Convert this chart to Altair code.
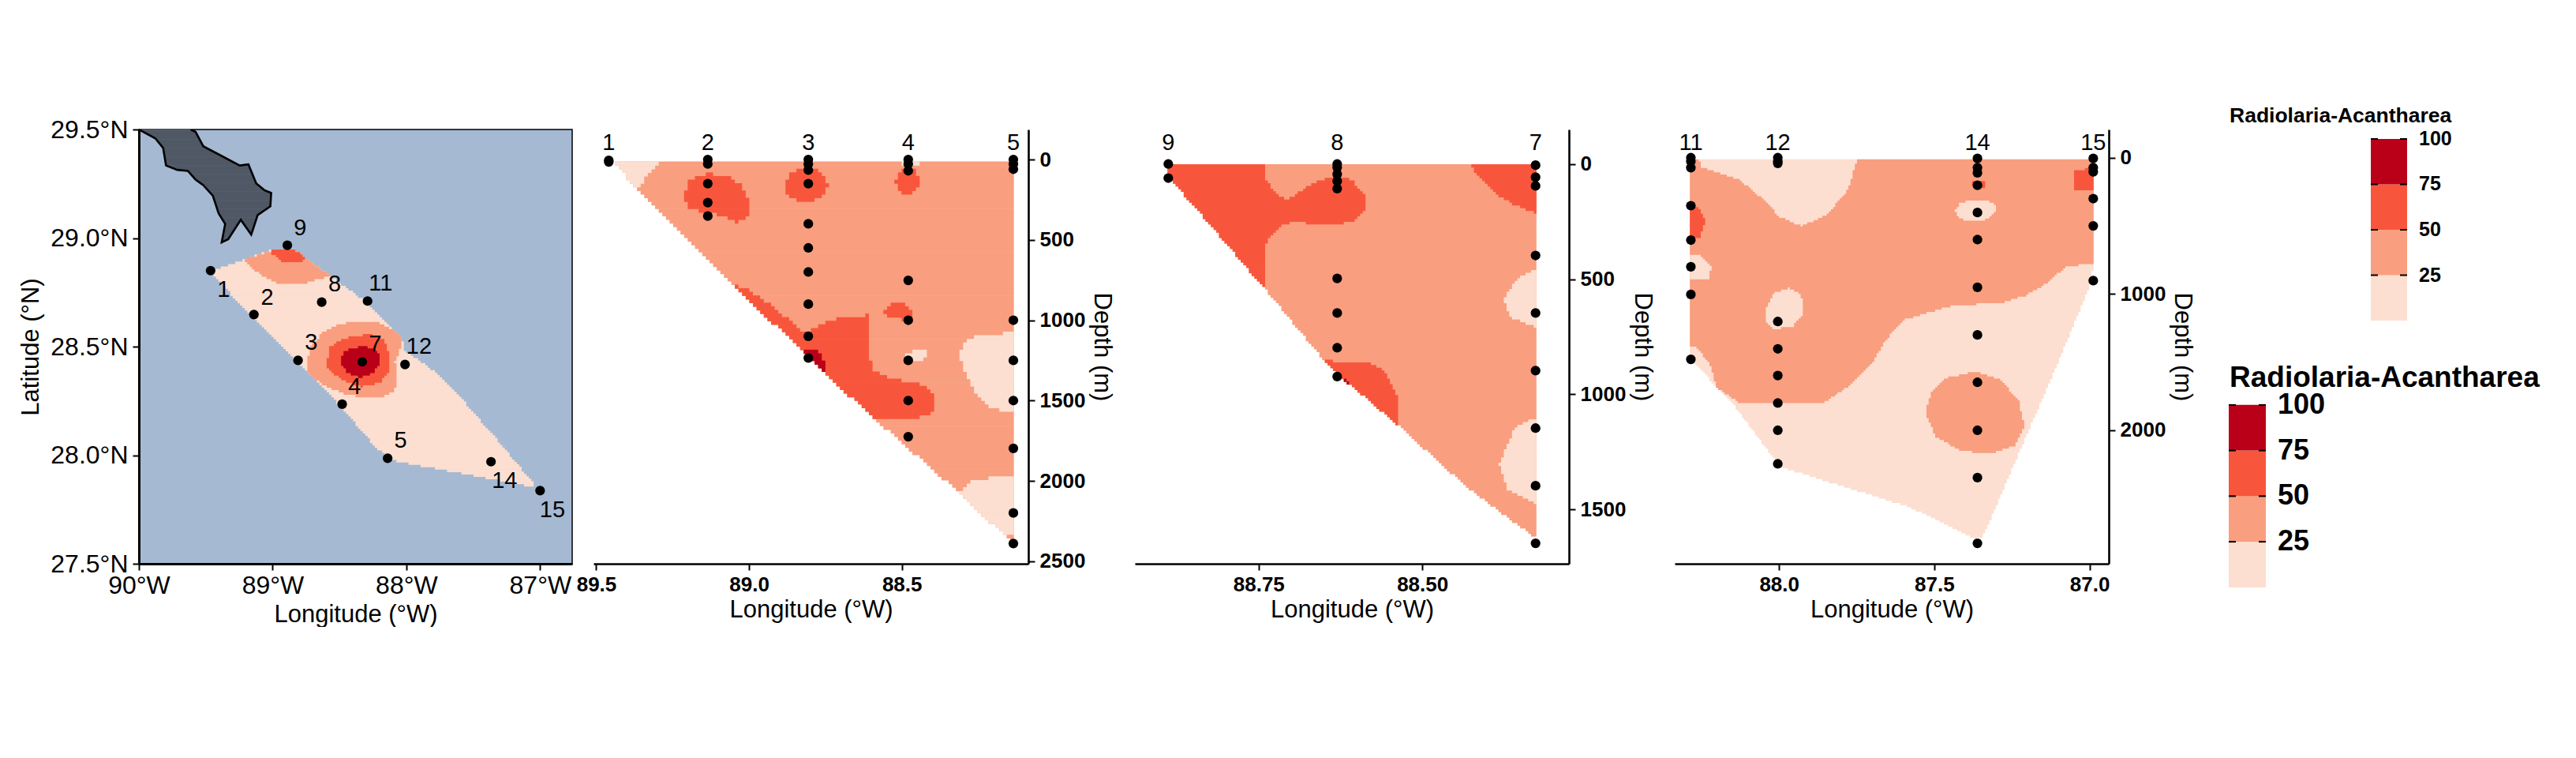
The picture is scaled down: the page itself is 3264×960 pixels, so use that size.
import altair as alt
import pandas as pd

# Colour classes
CLASSES = ["light", "mid", "strong", "dark", "land"]
COLORS = ["#fcdfd0", "#f99e7f", "#f8563c", "#ba0018", "#4f5864"]
LEGEND_BREAKS = [0, 25, 50, 75, 100]
LEGEND_TITLE = "Radiolaria-Acantharea"

# ---------- Map panel ----------
map_station = ["1", "2", "3", "4", "5", "7", "8", "9", "11", "12", "14", "15"]
map_lon = [89.464, 89.14, 88.81, 88.48, 88.14, 88.33, 88.633, 88.89, 88.29, 88.01, 87.367, 87.0]
map_lat = [28.85, 28.648, 28.437, 28.235, 27.986, 28.43, 28.705, 28.967, 28.71, 28.418, 27.97, 27.837]
map_label_lon = [89.367, 89.04, 88.711, 88.387, 88.043, 88.232, 88.536, 88.794, 88.192, 87.905, 87.266, 86.908]
map_label_lat = [28.763, 28.727, 28.519, 28.313, 28.066, 28.512, 28.786, 29.047, 28.791, 28.499, 27.883, 27.749]

land = [(90.0, 29.5), (89.877, 29.459), (89.819, 29.415), (89.797, 29.334), (89.713, 29.314), (89.633, 29.309),
        (89.576, 29.269), (89.519, 29.244), (89.447, 29.195), (89.404, 29.114), (89.355, 29.065), (89.381, 28.98),
        (89.332, 28.995), (89.238, 29.084), (89.16, 29.016), (89.112, 29.106), (89.017, 29.146), (89.011, 29.208),
        (89.06, 29.22), (89.123, 29.252), (89.181, 29.339), (89.246, 29.334), (89.519, 29.423), (89.576, 29.489),
        (89.613, 29.5)]

map_regions = [
    ("light", [(89.447, 28.85), (89.203, 28.899), (89.017, 28.943), (88.831, 28.943), (88.745, 28.902), (88.573, 28.825),
               (88.287, 28.698), (88.143, 28.608), (88.029, 28.527), (88.029, 28.486), (87.799, 28.388), (87.599, 28.266),
               (87.312, 28.062), (87.026, 27.85), (87.37, 27.891), (88.115, 27.976), (88.244, 28.046), (88.458, 28.201),
               (88.63, 28.315), (89.032, 28.559), (89.261, 28.706), (89.447, 28.837)]),
    ("mid", [(89.218, 28.899), (89.017, 28.938), (88.831, 28.943), (88.745, 28.902), (88.573, 28.825), (88.774, 28.788),
             (88.946, 28.788), (89.089, 28.828)]),
    ("strong", [(89.017, 28.938), (88.903, 28.947), (88.831, 28.943), (88.745, 28.899), (88.831, 28.889), (88.931, 28.894),
                (89.017, 28.935)]),
    ("mid", [(88.745, 28.421), (88.716, 28.494), (88.63, 28.559), (88.516, 28.6), (88.372, 28.613), (88.201, 28.608),
             (88.1, 28.576), (88.029, 28.527), (88.043, 28.494), (88.086, 28.429), (88.066, 28.348), (88.086, 28.299),
             (88.172, 28.266), (88.287, 28.261), (88.458, 28.282), (88.63, 28.323), (88.731, 28.38)]),
    ("strong", [(88.596, 28.421), (88.573, 28.494), (88.473, 28.535), (88.287, 28.555), (88.172, 28.535), (88.129, 28.47),
                (88.129, 28.38), (88.201, 28.331), (88.344, 28.315), (88.487, 28.348), (88.587, 28.396)]),
    ("dark", [(88.496, 28.429), (88.458, 28.478), (88.315, 28.502), (88.215, 28.478), (88.192, 28.429), (88.244, 28.38),
              (88.344, 28.356), (88.444, 28.38)]),
]

# ---------- Section 1-5 ----------
s2_station = ["1", "2", "3", "4", "5"]
s2_station_lon = [89.459, 89.135, 88.806, 88.479, 88.135]
s2_lon = [89.459, 89.459,
          89.135, 89.135, 89.135, 89.135, 89.135,
          88.806, 88.806, 88.806, 88.806, 88.806, 88.806, 88.806, 88.806, 88.806, 88.806,
          88.479, 88.479, 88.479, 88.479, 88.479, 88.479, 88.479, 88.479,
          88.135, 88.135, 88.135, 88.135, 88.135, 88.135, 88.135, 88.135, 88.135]
s2_depth = [5, 15,
            0, 28, 150, 268, 352,
            0, 28, 66, 150, 400, 550, 700, 900, 1100, 1235,
            0, 28, 70, 752, 1000, 1250, 1500, 1725,
            0, 28, 60, 1000, 1250, 1500, 1798, 2200, 2390]
s2_regions = [
    ("mid", [(89.446, 11), (89.365, 187), (89.168, 571), (88.823, 1198), (88.753, 1330), (88.583, 1626), (88.311, 2077),
             (88.167, 2336), (88.132, 2385), (88.132, 11)]),
    ("light", [(89.446, 11), (89.278, 11), (89.318, 55), (89.365, 187)]),
    ("light", [(88.514, 11), (88.433, 11), (88.45, 33), (88.496, 33)]),
    ("light", [(88.485, 1220), (88.456, 1180), (88.418, 1187), (88.418, 1231), (88.456, 1259), (88.485, 1259)]),
    ("light", [(88.311, 1231), (88.294, 1132), (88.23, 1088), (88.132, 1084), (88.132, 1582), (88.207, 1549), (88.265, 1440),
               (88.294, 1330)]),
    ("light", [(88.311, 2077), (88.276, 2011), (88.207, 1982), (88.132, 1978), (88.132, 2336), (88.167, 2336)]),
    ("strong", [(89.208, 209), (89.197, 132), (89.133, 92), (89.075, 99), (89.023, 165), (88.994, 275), (89.006, 352),
                (89.041, 396), (89.087, 352), (89.133, 330), (89.197, 308), (89.208, 264)]),
    ("strong", [(88.887, 165), (88.867, 88), (88.821, 44), (88.774, 66), (88.74, 154), (88.757, 231), (88.809, 268), (88.867, 242)]),
    ("strong", [(88.523, 132), (88.502, 66), (88.456, 59), (88.441, 132), (88.456, 204), (88.485, 220), (88.514, 187)]),
    ("strong", [(88.568, 956), (88.531, 901), (88.497, 901), (88.459, 967), (88.468, 1004), (88.531, 989)]),
    ("strong", [(89.058, 771), (88.994, 824), (88.902, 945), (88.823, 1088), (88.774, 1044), (88.705, 982), (88.603, 971),
                (88.61, 1220), (88.589, 1319), (88.531, 1374), (88.462, 1385), (88.404, 1440), (88.387, 1505), (88.404, 1582),
                (88.485, 1626), (88.583, 1626), (88.753, 1330), (88.823, 1198)]),
    ("dark", [(88.823, 1198), (88.772, 1198), (88.753, 1253), (88.753, 1330)]),
]

# ---------- Section 9-8-7 ----------
s3_station = ["9", "8", "7"]
s3_station_lon = [88.888, 88.63, 88.327]
s3_lon = [88.888, 88.888,
          88.63, 88.63, 88.63, 88.63, 88.63, 88.63, 88.63, 88.63, 88.63,
          88.327, 88.327, 88.327, 88.327, 88.327, 88.327, 88.327, 88.327, 88.327]
s3_depth = [0, 61,
            0, 15, 44, 74, 107, 497, 647, 798, 923,
            5, 57, 95, 397, 647, 897, 1147, 1397, 1647]
s3_regions = [
    ("mid", [(88.888, 5), (88.325, 5), (88.325, 1629), (88.431, 1406), (88.539, 1130), (88.652, 847), (88.741, 540), (88.824, 264),
             (88.888, 57)]),
    ("strong", [(88.888, 5), (88.742, 5), (88.738, 72), (88.724, 133), (88.705, 156), (88.685, 118), (88.663, 80), (88.63, 52),
                (88.608, 72), (88.588, 133), (88.588, 195), (88.6, 241), (88.63, 267), (88.663, 264), (88.696, 248), (88.718, 271),
                (88.738, 340), (88.742, 417), (88.742, 540), (88.824, 264), (88.888, 57)]),
    ("strong", [(88.426, 5), (88.325, 5), (88.325, 215), (88.359, 179), (88.387, 133), (88.409, 72)]),
    ("strong", [(88.649, 857), (88.586, 862), (88.558, 900), (88.539, 1000), (88.539, 1130), (88.622, 931)]),
    ("dark", [(88.622, 931), (88.611, 951), (88.612, 966)]),
    ("light", [(88.325, 460), (88.353, 494), (88.376, 586), (88.367, 663), (88.325, 712)]),
    ("light", [(88.325, 1103), (88.359, 1146), (88.382, 1307), (88.37, 1414), (88.325, 1475)]),
]

# ---------- Section 11-12-14-15 ----------
s4_station = ["11", "12", "14", "15"]
s4_station_lon = [88.284, 88.004, 87.361, 86.988]
s4_lon = [88.284] * 8 + [88.004] * 9 + [87.361] * 12 + [86.988] * 6
s4_depth = [0, 26, 73, 352, 604, 800, 1003, 1479,
            0, 26, 41, 1202, 1402, 1598, 1800, 2000, 2246,
            5, 73, 111, 202, 402, 601, 951, 1300, 1648, 2000, 2347, 2829,
            5, 73, 104, 300, 500, 902]
s4_regions = [
    ("light", [(88.287, 16), (86.985, 16), (86.985, 772), (87.0, 946), (87.111, 1554), (87.344, 2785), (87.368, 2798), (87.578, 2565),
               (87.998, 2267), (88.155, 1788), (88.287, 1477)]),
    ("mid", [(88.287, 16), (88.26, 16), (88.249, 73), (88.126, 168), (88.044, 324), (87.998, 440), (87.928, 505), (87.846, 427),
             (87.776, 233), (87.749, 16), (86.985, 16), (86.985, 772), (87.076, 803), (87.146, 933), (87.204, 1010), (87.286, 1067),
             (87.438, 1083), (87.601, 1192), (87.659, 1347), (87.706, 1528), (87.788, 1697), (87.858, 1800), (88.126, 1800),
             (88.202, 1684), (88.219, 1528), (88.266, 1386), (88.287, 1378)]),
    ("light", [(88.287, 718), (88.249, 725), (88.219, 803), (88.225, 894), (88.287, 899)]),
    ("light", [(88.042, 1114), (88.015, 997), (87.968, 959), (87.928, 1010), (87.922, 1140), (87.957, 1244), (88.021, 1256), (88.042, 1205)]),
    ("light", [(87.435, 389), (87.414, 332), (87.362, 311), (87.309, 332), (87.3, 389), (87.333, 453), (87.391, 466), (87.42, 440)]),
    ("mid", [(87.529, 1865), (87.508, 1723), (87.461, 1619), (87.368, 1575), (87.286, 1632), (87.228, 1788), (87.21, 1969),
             (87.239, 2111), (87.321, 2171), (87.414, 2150), (87.496, 2047)]),
    ("strong", [(88.287, 376), (88.26, 363), (88.239, 466), (88.254, 583), (88.287, 583)]),
    ("strong", [(87.053, 104), (86.985, 73), (86.985, 238), (87.053, 233)]),
    ("strong", [(87.377, 176), (87.335, 176), (87.338, 220), (87.373, 220)]),
]

FONT = "Liberation Sans"
COLOR_SCALE = alt.Scale(domain=CLASSES, range=COLORS)
DOT = 150
STN = 29


def raster(regions, xdom, ydom, nx, ny):
    """Turn read-off contour outlines into raster runs, like the gridded original."""
    dx = (xdom[1] - xdom[0]) / nx
    dy = (ydom[1] - ydom[0]) / ny
    lap = 0.7 * ny / 550
    rows = []
    for cls, poly in regions:
        for r in range(ny):
            yc = ydom[0] + (r + 0.5) * dy
            xs = []
            for (xa, ya), (xb, yb) in zip(poly, poly[1:] + poly[:1]):
                if (ya <= yc) != (yb <= yc):
                    xs.append(xa + (yc - ya) * (xb - xa) / (yb - ya))
            xs.sort()
            for a, b in zip(xs[::2], xs[1::2]):
                ia, ib = sorted((round((a - xdom[0]) / dx), round((b - xdom[0]) / dx)))
                if ib > ia:
                    rows.append({"x0": xdom[0] + ia * dx, "x1": xdom[0] + ib * dx,
                                 "y0": ydom[0] + r * dy, "y1": ydom[0] + (r + 1 + lap) * dy, "cls": cls})
    return pd.DataFrame(rows)


def raster_layer(regions, xs, ys, nx, ny, xaxis, yaxis):
    return alt.Chart(raster(regions, xs, ys, nx, ny)).mark_rect(strokeWidth=0).encode(
        x=alt.X("x0:Q", scale=alt.Scale(domain=xs, nice=False, zero=False), axis=xaxis),
        x2="x1:Q",
        y=alt.Y("y0:Q", scale=alt.Scale(domain=ys, nice=False, zero=False), axis=yaxis),
        y2="y1:Q",
        color=alt.Color("cls:N", scale=COLOR_SCALE, legend=None),
    )


def section(lon, depth, st, st_lon, st_y, regions, xdom, ydom, xticks, xfmt, yticks, nx, ny, width):
    xs = alt.Scale(domain=xdom, nice=False, zero=False)
    ys = alt.Scale(domain=ydom, nice=False, zero=False)
    xaxis = alt.Axis(
        values=xticks, format=xfmt, title="Longitude (°W)", grid=False, domainColor="black", domainWidth=2.6,
        tickColor="black", tickWidth=2, tickSize=8, labelFont=FONT, labelFontWeight="bold", labelFontSize=26,
        labelColor="black", labelPadding=5, titleFont=FONT, titleFontWeight="normal", titleFontSize=31,
        titleColor="black", titlePadding=4, labelFlush=False, labelOverlap=False)
    yaxis = alt.Axis(
        orient="right", values=yticks, format="d", title="Depth (m)", grid=False, domainColor="black", domainWidth=2.6,
        tickColor="black", tickWidth=2, tickSize=8, labelFont=FONT, labelFontWeight="bold", labelFontSize=26,
        labelColor="black", labelPadding=6, labelAlign="left", titleFont=FONT, titleFontWeight="normal",
        titleFontSize=31, titleColor="black", titleAngle=90, titlePadding=5, labelOverlap=False)
    base = raster_layer(regions, xdom, ydom, nx, ny, xaxis, yaxis)
    pts = alt.Chart(pd.DataFrame({"lon": lon, "depth": depth})).mark_circle(size=DOT, color="black", opacity=1).encode(
        x=alt.X("lon:Q", scale=xs, axis=xaxis), y=alt.Y("depth:Q", scale=ys, axis=yaxis))
    labels = alt.Chart(pd.DataFrame({"st": st, "lon": st_lon, "y": [st_y] * len(st)})).mark_text(
        font=FONT, fontSize=STN, color="black", align="center", baseline="middle").encode(
        x=alt.X("lon:Q", scale=xs, axis=xaxis), y=alt.Y("y:Q", scale=ys, axis=yaxis), text="st:N")
    return alt.layer(base, pts, labels).properties(width=width, height=550)


def spacer(w):
    return alt.Chart(pd.DataFrame({"a": [0]})).mark_point(opacity=0).encode(x=alt.value(0), y=alt.value(0)).properties(
        width=w, height=550)


# Map
mx = [90.0, 86.76]
my = [27.5, 29.5]
mxs = alt.Scale(domain=mx, nice=False, zero=False)
mys = alt.Scale(domain=my, nice=False, zero=False)
map_xaxis = alt.Axis(
    values=[90, 89, 88, 87], labelExpr="datum.value + '°W'", title="Longitude (°W)", grid=False, domainColor="black",
    domainWidth=3, tickColor="black", tickWidth=2, tickSize=8, labelFont=FONT, labelFontSize=32, labelColor="black",
    labelPadding=4, titleFont=FONT, titleFontWeight="normal", titleFontSize=31, titleColor="black", titlePadding=6,
    labelOverlap=False, labelFlush=False)
map_yaxis = alt.Axis(
    values=[27.5, 28.0, 28.5, 29.0, 29.5], labelExpr="format(datum.value, '.1f') + '°N'", title="Latitude (°N)",
    grid=False, domainColor="black", domainWidth=3, tickColor="black", tickWidth=2, tickSize=8, labelFont=FONT,
    labelFontSize=32, labelColor="black", labelPadding=6, titleFont=FONT, titleFontWeight="normal", titleFontSize=31,
    titleColor="black", titlePadding=8, labelOverlap=False, labelFlush=False)
map_fill = raster_layer(map_regions, mx, my, 180, 180, map_xaxis, map_yaxis)
land_fill = raster_layer([("land", land)], mx, my, 300, 300, map_xaxis, map_yaxis)
land_line = alt.Chart(pd.DataFrame({"lon": [p[0] for p in land], "lat": [p[1] for p in land],
                                    "i": list(range(len(land)))})).mark_line(color="black", strokeWidth=2.6, clip=True).encode(
    x=alt.X("lon:Q", scale=mxs, axis=map_xaxis), y=alt.Y("lat:Q", scale=mys, axis=map_yaxis), order="i:Q")
map_pts = alt.Chart(pd.DataFrame({"lon": map_lon, "lat": map_lat})).mark_circle(size=DOT, color="black", opacity=1).encode(
    x=alt.X("lon:Q", scale=mxs, axis=map_xaxis), y=alt.Y("lat:Q", scale=mys, axis=map_yaxis))
map_txt = alt.Chart(pd.DataFrame({"st": map_station, "lon": map_label_lon, "lat": map_label_lat})).mark_text(
    font=FONT, fontSize=STN, color="black", align="center", baseline="middle").encode(
    x=alt.X("lon:Q", scale=mxs, axis=map_xaxis), y=alt.Y("lat:Q", scale=mys, axis=map_yaxis), text="st:N")
p1 = alt.layer(map_fill, land_fill, land_line, map_pts, map_txt).properties(
    width=549, height=550, view=alt.ViewBackground(fill="#a5b9d2", stroke="black", strokeWidth=1.5))

p2 = section(s2_lon, s2_depth, s2_station, s2_station_lon, -103, s2_regions, [89.509, 88.086], [2516, -187],
             [89.5, 89.0, 88.5], ".1f", [0, 500, 1000, 1500, 2000, 2500], 120, 120, 551)
p3 = section(s3_lon, s3_depth, s3_station, s3_station_lon, -92, s3_regions, [88.939, 88.276], [1736, -150],
             [88.75, 88.5], ".2f", [0, 500, 1000, 1500], 160, 160, 550)
p4 = section(s4_lon, s4_depth, s4_station, s4_station_lon, -109, s4_regions, [88.336, 86.938], [2979, -207],
             [88.0, 87.5, 87.0], ".1f", [0, 1000, 2000], 200, 200, 550)


# Legends
def legend(domain, x0, x1, xlab, tsize, lsize, title_x, title_y):
    ys = alt.Scale(domain=domain, nice=False, zero=False)
    df = pd.DataFrame({"lo": LEGEND_BREAKS[:-1], "hi": LEGEND_BREAKS[1:], "cls": CLASSES[:4]})
    bars = alt.Chart(df).mark_rect(strokeWidth=0).encode(
        x=alt.value(x0), x2=alt.value(x1), y=alt.Y("lo:Q", scale=ys, axis=None), y2="hi:Q",
        color=alt.Color("cls:N", scale=COLOR_SCALE, legend=None))
    tk = pd.DataFrame({"v": LEGEND_BREAKS[1:]})
    t1 = alt.Chart(tk).mark_rule(color="black", strokeWidth=2).encode(
        x=alt.value(x0), x2=alt.value(x0 + 9), y=alt.Y("v:Q", scale=ys, axis=None))
    t2 = alt.Chart(tk).mark_rule(color="black", strokeWidth=2).encode(
        x=alt.value(x1 - 9), x2=alt.value(x1), y=alt.Y("v:Q", scale=ys, axis=None))
    labs = alt.Chart(tk).mark_text(font=FONT, fontWeight="bold", fontSize=lsize, align="left", baseline="middle",
                                   color="black").encode(
        x=alt.value(xlab), y=alt.Y("v:Q", scale=ys, axis=None), text="v:Q")
    ttl = alt.Chart(pd.DataFrame({"t": [LEGEND_TITLE]})).mark_text(
        font=FONT, fontWeight="bold", fontSize=tsize, align="left", baseline="middle", color="black").encode(
        x=alt.value(title_x), y=alt.value(title_y), text="t:N")
    return alt.layer(bars, t1, t2, labs, ttl)


leg1 = legend([-155.6, 105.2], 184, 230, 245, 26.5, 25, 5, -17)
leg2 = legend([-8.7, 251], 4, 51, 66, 37, 36, 5, 315)
leg = alt.layer(leg1, leg2).resolve_scale(y="independent", color="shared").properties(width=430, height=600)

chart = alt.hconcat(p1, spacer(27), p2, spacer(135), p3, spacer(134), p4, spacer(148), leg).properties(
    spacing=0, bounds="flush", padding={"left": 15, "top": 126, "right": 0, "bottom": 0}, background="white"
).configure_view(strokeWidth=0)

chart.save("out.html", embed_options={"renderer": "svg", "actions": False})
